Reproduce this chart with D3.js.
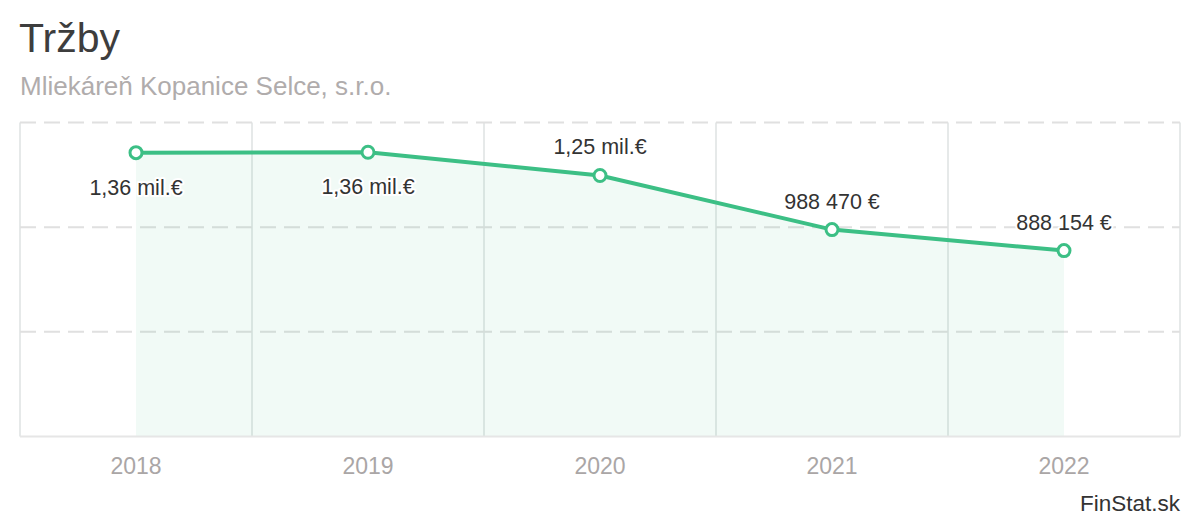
<!DOCTYPE html>
<html><head><meta charset="utf-8">
<script src="https://cdn.jsdelivr.net/npm/d3@7"></script>
<style>body{margin:0;background:#fff;} svg{display:block;font-family:"Liberation Sans",Arial,sans-serif;}</style>
</head><body>
<svg id="c" width="1200" height="520"></svg>
<script>
const categories = ["2018","2019","2020","2021","2022"];
const values = [1356000, 1358000, 1247000, 988470, 888154];
const labels = ["1,36 mil.€","1,36 mil.€","1,25 mil.€","988 470 €","888 154 €"];
const labelPos = ["below","below","above","above","above"];
const yTicks = [0, 500000, 1000000, 1500000];

const svg = d3.select("#c");
const L = 20, R = 1180, T = 122.5, B = 436.5;
const x = d3.scaleBand().domain(categories).range([L, R]);
const y = d3.scaleLinear().domain([0, 1500000]).range([B, T]);
const cx = d => x(d) + x.bandwidth()/2;
const green = "#3cbf85";

svg.append("text").attr("x",19).attr("y",52).attr("font-size",41).attr("fill","#3d3d3d").text("Tržby");
svg.append("text").attr("x",20).attr("y",95).attr("font-size",26).attr("fill","#b0acac").text("Mliekáreň Kopanice Selce, s.r.o.");

// vertical grid at band edges
const edges = categories.map(c => x(c)).concat([R]);
svg.append("g").selectAll("line").data(edges).join("line")
  .attr("x1",d=>d).attr("x2",d=>d).attr("y1",T).attr("y2",B)
  .attr("stroke","#e6e9e9").attr("stroke-width",2);

// horizontal grid
svg.append("g").selectAll("line").data(yTicks.filter(t=>t>0)).join("line")
  .attr("x1",L).attr("x2",R).attr("y1",d=>y(d)).attr("y2",d=>y(d))
  .attr("stroke","#e0e0e0").attr("stroke-width",2).attr("stroke-dasharray","16,8");

// area
const pts = categories.map((c,i)=>({c, v: values[i], l: labels[i], p: labelPos[i]}));
svg.append("path").datum(pts)
  .attr("d", d3.area().x(d=>cx(d.c)).y0(B).y1(d=>y(d.v)))
  .attr("fill", green).attr("fill-opacity",0.07);

// baseline
svg.append("line").attr("x1",L).attr("x2",R).attr("y1",B).attr("y2",B)
  .attr("stroke","#e6e6e6").attr("stroke-width",2);

// line
svg.append("path").datum(pts)
  .attr("d", d3.line().x(d=>cx(d.c)).y(d=>y(d.v)))
  .attr("fill","none").attr("stroke",green).attr("stroke-width",4).attr("stroke-linejoin","round");

svg.append("g").selectAll("circle").data(pts).join("circle")
  .attr("cx",d=>cx(d.c)).attr("cy",d=>y(d.v)).attr("r",6)
  .attr("fill","#fff").attr("stroke",green).attr("stroke-width",3);

// data labels
svg.append("g").selectAll("text").data(pts).join("text")
  .attr("x",d=>cx(d.c)).attr("y",d=> d.p==="below" ? y(d.v)+42 : y(d.v)-21)
  .attr("text-anchor","middle").attr("font-size",21.5).attr("fill","#333")
  .attr("stroke","#fff").attr("stroke-width",4).attr("paint-order","stroke").attr("stroke-linejoin","round")
  .text(d=>d.l);

// x axis labels
const ax = svg.append("g").attr("transform",`translate(0,${B})`)
  .call(d3.axisBottom(x).tickSize(0).tickPadding(21));
ax.select(".domain").remove();
ax.selectAll("text").attr("font-size",23).attr("fill","#aaa6a6").attr("font-family","Liberation Sans, Arial, sans-serif");

svg.append("text").attr("x",1180).attr("y",511).attr("text-anchor","end").attr("font-size",22.5).attr("fill","#333").text("FinStat.sk");
</script>
</body></html>
